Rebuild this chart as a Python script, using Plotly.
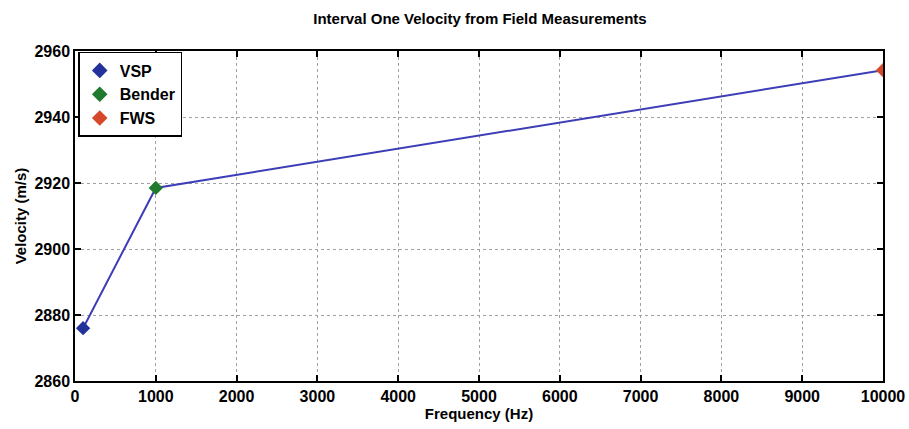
import plotly.graph_objects as go

methods = ["VSP", "Bender", "FWS"]
frequency = [100, 1000, 10000]
velocity = [2876, 2918.5, 2954.2]
colors = ["#23319a", "#1e7a2c", "#d6482a"]

x_ticks = [0, 1000, 2000, 3000, 4000, 5000, 6000, 7000, 8000, 9000, 10000]
x_labels = ["0", "1000", "2000", "3000", "4000", "5000", "6000", "7000", "8000", "9000", "10000"]
y_ticks = [2860, 2880, 2900, 2920, 2940, 2960]
y_labels = ["2860", "2880", "2900", "2920", "2940", "2960"]

fig = go.Figure()
fig.add_trace(go.Scatter(x=frequency, y=velocity, mode="lines",
                         line=dict(color="#3d3db8", width=2), showlegend=False,
                         hoverinfo="skip"))
for m, f, v, c in zip(methods, frequency, velocity, colors):
    fig.add_trace(go.Scatter(x=[f], y=[v], mode="markers", name=m,
                             marker=dict(symbol="diamond", size=11, color=c)))

font_family = "Liberation Sans, Arial, sans-serif"
axis_common = dict(showline=True, linecolor="black", linewidth=1.5, mirror="ticks",
                   ticks="inside", ticklen=6, tickwidth=1.5, tickcolor="black",
                   showgrid=True, gridcolor="#a0a0a0", griddash="dot", gridwidth=1,
                   zeroline=False, automargin=False,
                   tickfont=dict(family=font_family, size=16, color="black", weight="bold"))

fig.update_layout(
    width=909, height=429,
    margin=dict(l=75, r=26, t=51, b=48),
    paper_bgcolor="white", plot_bgcolor="white",
    title=dict(text="Interval One Velocity from Field Measurements",
               x=0.528, xanchor="center", y=0.968, yanchor="top",
               font=dict(family=font_family, size=15, color="black", weight="bold")),
    xaxis=dict(range=[0, 10000], tickvals=x_ticks, ticktext=x_labels,
               title=dict(text="Frequency (Hz)", standoff=0,
                          font=dict(family=font_family, size=15, color="black", weight="bold")),
               **axis_common),
    yaxis=dict(range=[2860, 2960], tickvals=y_ticks, ticktext=y_labels,
               title=dict(text="Velocity (m/s)", standoff=4,
                          font=dict(family=font_family, size=15, color="black", weight="bold")),
               **axis_common),
    legend=dict(x=0.004, y=0.997, xanchor="left", yanchor="top",
                bgcolor="white", bordercolor="black", borderwidth=1.5,
                font=dict(family=font_family, size=16, color="black", weight="bold"),
                itemsizing="constant", tracegroupgap=0),
    showlegend=True,
)

fig.write_html("out.html")
